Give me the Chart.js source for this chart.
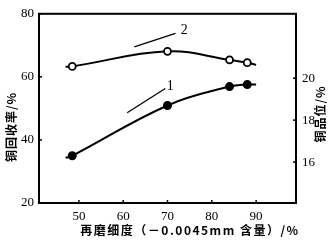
<!DOCTYPE html>
<html lang="zh">
<head>
<meta charset="UTF-8">
<title>再磨细度</title>
<script src="https://cdn.jsdelivr.net/npm/chart.js"></script>
<style>
  body { margin: 0; background: #fff; }
  #wrap { width: 333px; height: 243px; position: relative; }
</style>
</head>
<body>
<div id="wrap"><canvas id="c"></canvas></div>
<script>
// regrind fineness (-0.0045mm content, %)
const fineness = [47, 48.5, 70, 84, 88, 90];
// curve 2: copper recovery % (left axis)
const recovery = [63.2, 63.3, 68.1, 65.4, 64.5, 63.8];
// curve 1: copper grade % (right axis)
const grade = [16.2, 16.3, 18.7, 19.6, 19.7, 19.7];
// which of the points carry a marker
const marked = [false, true, true, true, true, false];

const xTicks = [50, 60, 70, 80, 90];
const leftTicks = [20, 40, 60, 80];
const rightTicks = [16, 18, 20];

// leader lines for the curve numbers (data units of x / left axis)
const label2 = { text: '2', from: [62.5, 69.5], to: [71.8, 73.8], at: [73.8, 74.6] };
const label1 = { text: '1', from: [60.9, 48.6], to: [69.5, 56.3], at: [70.6, 57.0] };

const pts = (ys) => fineness.map((x, i) => ({ x: x, y: ys[i] }));
const radius = marked.map(m => m ? 3.5 : 0);

const serif = 'Liberation Serif';
const cjk = '"Noto Sans CJK SC"';

function vText(ctx, txt, x, y) {
  ctx.save();
  ctx.translate(x, y);
  ctx.rotate(-Math.PI / 2);
  ctx.fillText(txt, 0, 0);
  ctx.restore();
}

const annotate = {
  id: 'annotate',
  afterDraw(chart) {
    const ctx = chart.ctx;
    const xs = chart.scales.x, yl = chart.scales.y;
    const a = chart.chartArea;
    ctx.save();
    // frame
    ctx.strokeStyle = '#000';
    ctx.lineWidth = 2;
    ctx.strokeRect(a.left, a.top, a.right - a.left, a.bottom - a.top);
    // little inward tick marks
    ctx.lineWidth = 1.5;
    xTicks.forEach(v => {
      const px = xs.getPixelForValue(v);
      ctx.beginPath(); ctx.moveTo(px, a.bottom); ctx.lineTo(px, a.bottom - 3); ctx.stroke();
    });
    leftTicks.forEach(v => {
      const py = yl.getPixelForValue(v);
      ctx.beginPath(); ctx.moveTo(a.left, py); ctx.lineTo(a.left + 3, py); ctx.stroke();
    });
    rightTicks.forEach(v => {
      const py = chart.scales.y2.getPixelForValue(v);
      ctx.beginPath(); ctx.moveTo(a.right, py); ctx.lineTo(a.right - 3, py); ctx.stroke();
    });
    // leader lines + numbers
    ctx.lineWidth = 1.3;
    ctx.font = '14px ' + serif;
    ctx.fillStyle = '#000';
    ctx.textAlign = 'center';
    ctx.textBaseline = 'middle';
    [label1, label2].forEach(l => {
      ctx.beginPath();
      ctx.moveTo(xs.getPixelForValue(l.from[0]), yl.getPixelForValue(l.from[1]));
      ctx.lineTo(xs.getPixelForValue(l.to[0]), yl.getPixelForValue(l.to[1]));
      ctx.stroke();
      ctx.fillText(l.text, xs.getPixelForValue(l.at[0]), yl.getPixelForValue(l.at[1]));
    });
    // axis titles
    ctx.font = 'bold 12px ' + cjk;
    ctx.letterSpacing = '1px';
    vText(ctx, '铜回收率/%', 11, 127);
    vText(ctx, '铜品位/%', 320, 114);
    ctx.letterSpacing = '1.5px';
    ctx.fillText('再磨细度（－0.0045mm 含量）/%', 190, 230);
    ctx.restore();
  }
};

new Chart(document.getElementById('c'), {
  type: 'line',
  data: {
    datasets: [
      {
        label: '铜回收率',
        data: pts(recovery),
        yAxisID: 'y',
        borderColor: '#000',
        borderWidth: 2,
        pointRadius: radius,
        pointBackgroundColor: '#fff',
        pointBorderColor: '#000',
        pointBorderWidth: 1.8,
        tension: 0.4
      },
      {
        label: '铜品位',
        data: pts(grade),
        yAxisID: 'y2',
        borderColor: '#000',
        borderWidth: 2,
        pointRadius: radius,
        pointBackgroundColor: '#000',
        pointBorderColor: '#000',
        tension: 0.4
      }
    ]
  },
  options: {
    responsive: true,
    maintainAspectRatio: false,
    animation: false,
    layout: { padding: { top: 9, left: 0, right: 0, bottom: 0 } },
    plugins: { legend: { display: false }, tooltip: { enabled: false } },
    scales: {
      x: {
        type: 'linear',
        min: 41, max: 99,
        afterBuildTicks: s => { s.ticks = xTicks.map(v => ({ value: v })); },
        afterFit: s => { s.height = 40; },
        grid: { display: false, drawTicks: false },
        border: { display: false },
        ticks: { color: '#000', padding: 6, font: { family: serif, size: 13 } }
      },
      y: {
        position: 'left',
        min: 20, max: 80,
        afterBuildTicks: s => { s.ticks = leftTicks.map(v => ({ value: v })); },
        afterFit: s => { s.width = 39; },
        grid: { display: false, drawTicks: false },
        border: { display: false },
        ticks: { color: '#000', padding: 5, font: { family: serif, size: 13 } }
      },
      y2: {
        position: 'right',
        min: 14.05, max: 23.07,
        afterBuildTicks: s => { s.ticks = rightTicks.map(v => ({ value: v })); },
        afterFit: s => { s.width = 37; },
        grid: { display: false, drawTicks: false },
        border: { display: false },
        ticks: { color: '#000', padding: 6, font: { family: serif, size: 13 } }
      }
    }
  },
  plugins: [annotate]
});
</script>
</body>
</html>
